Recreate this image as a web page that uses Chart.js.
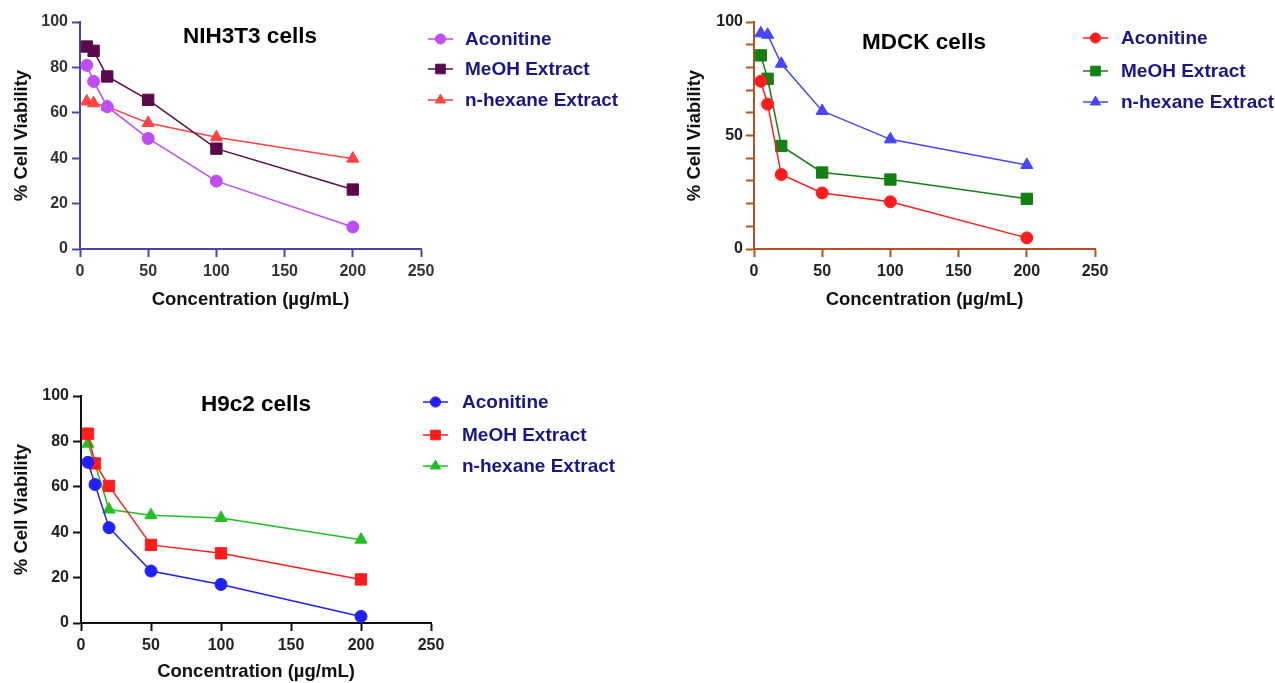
<!DOCTYPE html>
<html>
<head>
<meta charset="utf-8">
<script src="https://cdn.jsdelivr.net/npm/chart.js@4/dist/chart.umd.min.js"></script>
<style>
  html, body { margin: 0; padding: 0; background: #fff; }
  body { width: 1275px; height: 683px; position: relative; overflow: hidden; }
  canvas { position: absolute; }
</style>
</head>
<body>
<canvas id="nihChart" width="640" height="330" style="left:0;top:0"></canvas>
<canvas id="mdckChart" width="635" height="330" style="left:640px;top:0"></canvas>
<canvas id="h9c2Chart" width="640" height="353" style="left:0;top:330px"></canvas>

<script>
// Concentrations (µg/mL)
const concentrations = [5, 10, 20, 50, 100, 200];
const seriesNames = ['Aconitine', 'MeOH Extract', 'n-hexane Extract'];
const xTicks = [0, 50, 100, 150, 200, 250];

// NIH3T3 cells - % viability
const nihAconitine = [80.9, 73.8, 62.7, 48.7, 29.9, 9.7];
const nihMeoh = [89.2, 87.3, 76.0, 65.7, 44.2, 26.2];
const nihHexane = [65.0, 64.2, 62.7, 55.5, 49.2, 39.8];

// MDCK cells
const mdckAconitine = [73.9, 63.8, 32.8, 24.7, 20.8, 4.9];
const mdckMeoh = [85.3, 75.0, 45.4, 33.7, 30.6, 22.1];
const mdckHexane = [95.0, 94.4, 81.6, 60.8, 48.3, 37.0];

// H9c2 cells
const h9Aconitine = [70.8, 61.0, 42.0, 22.9, 17.0, 2.9];
const h9Meoh = [83.4, 70.3, 60.4, 34.4, 30.7, 19.2];
const h9Hexane = [79.0, 70.0, 50.0, 47.5, 46.3, 36.7];

const FONT = 'Arial, "Liberation Sans", sans-serif';
const pointStyles = ['circle', 'rect', 'triangle'];
const pointSizes = [6, 8, 7];

// draws the panel title and the line+marker legend
const panelPlugin = {
    id: 'panel',
    afterDraw(chart, args, opts) {
        const ctx = chart.ctx;
        ctx.save();
        ctx.fillStyle = '#000';
        ctx.font = 'bold 22.5px ' + FONT;
        ctx.textAlign = 'center';
        ctx.textBaseline = 'middle';
        ctx.fillText(opts.title, opts.titleX, opts.titleY);

        ctx.font = 'bold 19px ' + FONT;
        ctx.textAlign = 'left';
        chart.data.datasets.forEach((ds, i) => {
            const y = opts.legendY[i];
            const x = opts.legendX;
            ctx.strokeStyle = ds.borderColor;
            ctx.lineWidth = 1.5;
            ctx.beginPath();
            ctx.moveTo(x, y);
            ctx.lineTo(x + 25, y);
            ctx.stroke();
            ctx.fillStyle = ds.backgroundColor;
            ctx.lineWidth = 1;
            Chart.helpers.drawPoint(ctx, {
                pointStyle: ds.pointStyle,
                radius: ds.pointRadius * 0.85,
                rotation: 0,
                borderWidth: 1
            }, x + 12.5, y);
            ctx.fillStyle = '#17178a';
            ctx.fillText(ds.label, opts.textX, y + 1);
        });
        ctx.restore();
    }
};

function makeDatasets(values, colors) {
    return values.map((vals, i) => ({
        label: seriesNames[i],
        data: concentrations.map((c, j) => ({ x: c, y: vals[j] })),
        borderColor: colors[i],
        backgroundColor: colors[i],
        borderWidth: 1.5,
        pointStyle: pointStyles[i],
        pointRadius: pointSizes[i],
        pointHoverRadius: pointSizes[i],
        pointBorderWidth: 1,
        tension: 0,
        clip: false
    }));
}

function buildChart(id, cfg) {
    const ctx = document.getElementById(id).getContext('2d');
    return new Chart(ctx, {
        type: 'line',
        data: { datasets: makeDatasets(cfg.values, cfg.colors) },
        options: {
            responsive: false,
            animation: false,
            layout: { padding: cfg.padding },
            plugins: {
                legend: { display: false },
                tooltip: { enabled: false },
                panel: cfg.panel
            },
            scales: {
                x: {
                    type: 'linear',
                    min: 0,
                    max: 250,
                    afterBuildTicks: function(scale) {
                        scale.ticks = xTicks.map(v => ({ value: v }));
                    },
                    afterFit: function(scale) { scale.height = cfg.xHeight; },
                    border: { color: cfg.axisColor, width: 2 },
                    grid: { drawOnChartArea: false, drawTicks: true, tickLength: 8, tickColor: cfg.axisColor, tickWidth: 2 },
                    ticks: { color: cfg.tickColor, padding: 5, maxRotation: 0, font: { family: FONT, size: 16, weight: 'bold' } },
                    title: {
                        display: true,
                        text: 'Concentration (µg/mL)',
                        color: '#111',
                        font: { family: FONT, size: 18.5, weight: 'bold' },
                        padding: { top: 0, bottom: cfg.xTitlePad }
                    }
                },
                y: {
                    min: 0,
                    max: 100,
                    ticks: {
                        stepSize: cfg.yStep,
                        color: cfg.tickColor,
                        padding: cfg.yTickPad,
                        font: { family: FONT, size: 16, weight: 'bold' },
                        callback: function(v) { return v % cfg.yLabelEvery === 0 ? v : ''; }
                    },
                    afterFit: function(scale) { scale.width = cfg.yWidth; },
                    border: { color: cfg.axisColor, width: 2 },
                    grid: { drawOnChartArea: false, drawTicks: true, tickLength: 8, tickColor: cfg.axisColor, tickWidth: 2 },
                    title: {
                        display: true,
                        text: '% Cell Viability',
                        color: '#111',
                        font: { family: FONT, size: 18.5, weight: 'bold' },
                        padding: { top: cfg.yTitlePad, bottom: 0 }
                    }
                }
            }
        },
        plugins: [panelPlugin]
    });
}

buildChart('nihChart', {
    values: [nihAconitine, nihMeoh, nihHexane],
    colors: ['#c04cf4', '#5a0a4c', '#ff4242'],
    axisColor: '#45499c',
    tickColor: '#333',
    padding: { top: 22, right: 219, bottom: 0, left: 0 },
    xHeight: 81, xTitlePad: 19,
    yWidth: 80, yTitlePad: 11, yTickPad: 4,
    yStep: 20, yLabelEvery: 20,
    panel: { title: 'NIH3T3 cells', titleX: 250, titleY: 37, legendX: 428, textX: 465, legendY: [39, 69, 100] }
});

buildChart('mdckChart', {
    values: [mdckAconitine, mdckMeoh, mdckHexane],
    colors: ['#ff1c1c', '#138013', '#4646ff'],
    axisColor: '#b3521e',
    tickColor: '#222',
    padding: { top: 22, right: 180, bottom: 0, left: 0 },
    xHeight: 81, xTitlePad: 19,
    yWidth: 114, yTitlePad: 44, yTickPad: 3,
    yStep: 10, yLabelEvery: 50,
    panel: { title: 'MDCK cells', titleX: 284, titleY: 43, legendX: 443, textX: 481, legendY: [38, 71, 102] }
});

buildChart('h9c2Chart', {
    values: [h9Aconitine, h9Meoh, h9Hexane],
    colors: ['#2020ff', '#ff1c1c', '#22bf22'],
    axisColor: '#111',
    tickColor: '#222',
    padding: { top: 66, right: 209, bottom: 0, left: 0 },
    xHeight: 60, xTitlePad: 0,
    yWidth: 81, yTitlePad: 11, yTickPad: 4,
    yStep: 20, yLabelEvery: 20,
    panel: { title: 'H9c2 cells', titleX: 256, titleY: 75, legendX: 423, textX: 462, legendY: [72, 105, 136] }
});
</script>
</body>
</html>
